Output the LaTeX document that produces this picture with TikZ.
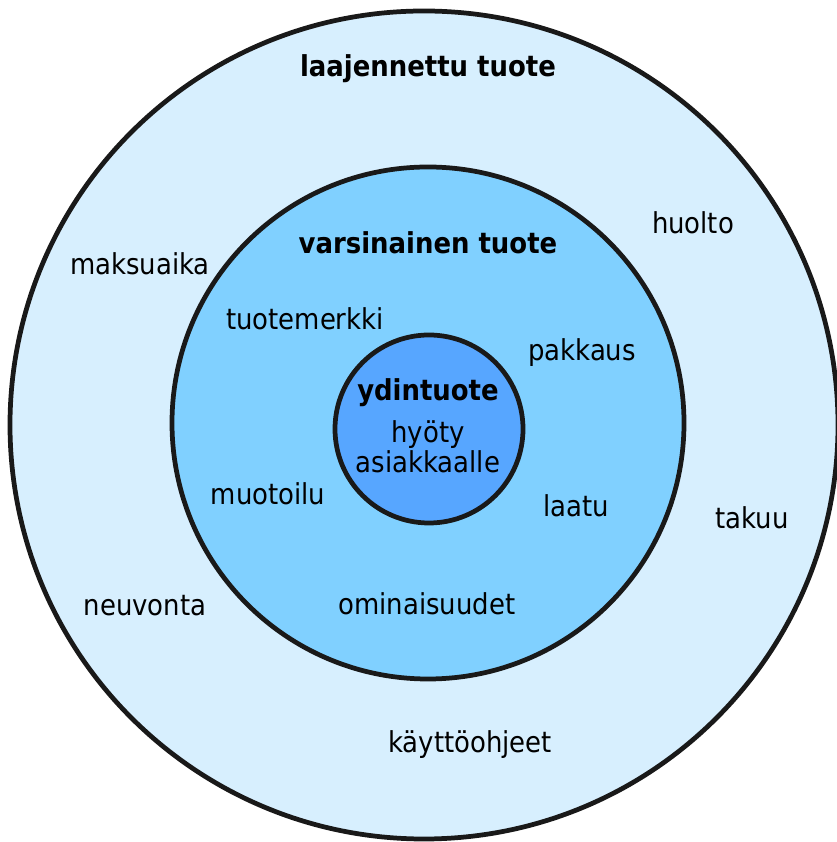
\documentclass[tikz,border=0pt]{standalone}
\usepackage{fontspec}
\setmainfont{DejaVu Sans Condensed}
\usetikzlibrary{positioning}
\definecolor{outerblue}{HTML}{D7EFFE}
\definecolor{midblue}{HTML}{80D0FF}
\definecolor{coreblue}{HTML}{57A6FF}

\begin{document}
\begin{tikzpicture}[
  font=\fontsize{16.4}{15.6}\selectfont,
  ring/.style={circle, draw=black!90, line width=2.7pt, inner sep=0pt},
  ringtitle/.style={font=\fontsize{16.4}{15.6}\selectfont\bfseries},
  item/.style={align=center},
]
\useasboundingbox (0,0) rectangle (16.72,16.84);

% ---- rings ----
\node[ring, fill=outerblue, minimum size=16.56cm] (laaj) at (8.48,8.34) {};
\node[ring, fill=midblue, minimum size=10.24cm] (vars) at (8.56,8.38) {};
\node[ring, fill=coreblue, minimum size=3.76cm] (ydin) at (8.58,8.26) {};

% ---- titles ----
\node[ringtitle] (laajt) at (8.56,15.46) {laajennettu tuote};
\node[ringtitle] (varst) at (8.56,11.98) {varsinainen tuote};
\node[ringtitle] (ydint) at (8.56,8.99) {ydintuote};
\node[item] (hyoty) at (8.56,7.9) {hyöty\\asiakkaalle};

% ---- middle ring items ----
\node[item] (merkki) at (6.1,10.46) {tuotemerkki};
\node[item] (pakkaus) at (11.64,9.78) {pakkaus};
\node[item] (muoto) at (5.36,6.96) {muotoilu};
\node[item] (laatu) at (11.52,6.72) {laatu};
\node[item] (omin) at (8.54,4.76) {ominaisuudet};

% ---- outer ring items ----
\node[item] (huolto) at (13.86,12.38) {huolto};
\node[item] (maksu) at (2.8,11.56) {maksuaika};
\node[item] (takuu) at (15.04,6.48) {takuu};
\node[item] (neuvo) at (2.9,4.72) {neuvonta};
\node[item] (ohjeet) at (9.4,1.94) {käyttöohjeet};

\end{tikzpicture}
\end{document}
